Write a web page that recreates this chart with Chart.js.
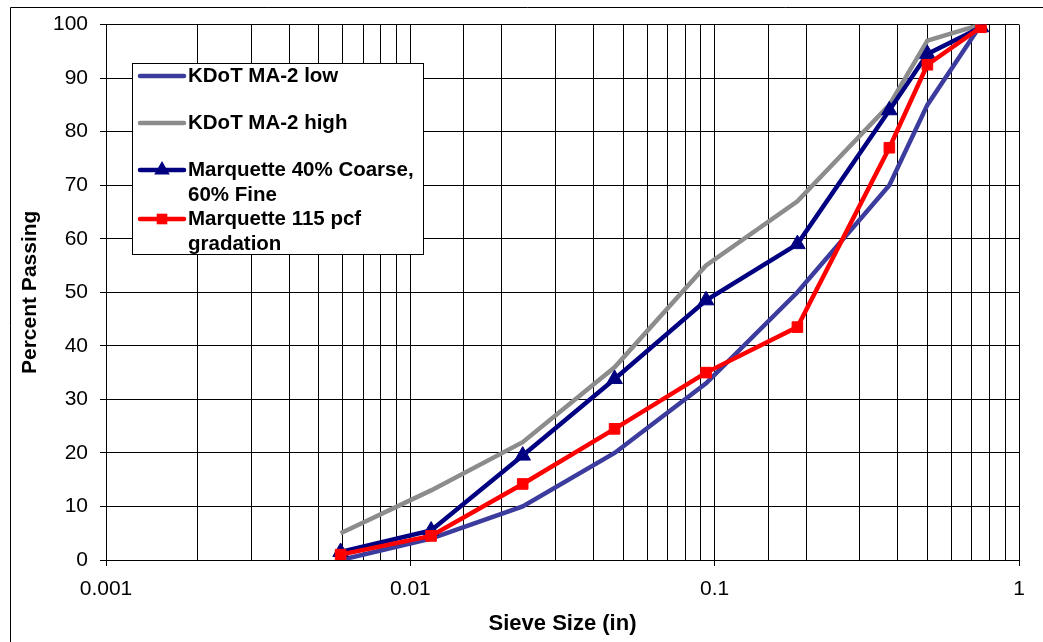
<!DOCTYPE html>
<html>
<head>
<meta charset="utf-8">
<script src="https://cdn.jsdelivr.net/npm/chart.js@4.4.1/dist/chart.umd.min.js"></script>
<style>
  html, body { margin: 0; padding: 0; background: #fff; }
  #wrap { width: 1043px; height: 642px; position: relative; }
</style>
</head>
<body>
<div id="wrap"><canvas id="sieveChart" width="1043" height="642"></canvas></div>
<script>
// sieve sizes in inches (#100 .. 3/4")
const sieveSizes = [0.0059, 0.0117, 0.0234, 0.0469, 0.0937, 0.187, 0.375, 0.5, 0.75];

const ma2Low = [0, 4, 10, 20, 33, 50, 70, 85, 100];
const ma2High = [5, 13, 22, 36, 55, 67, 85, 97, 100];
const marq4060 = [1.5, 5.5, 19.5, 33.8, 48.5, 59, 84, 94.5, 99.5];
const marq115 = [1, 4.5, 14.2, 24.5, 35, 43.5, 77, 92.5, 99.5];

const seriesNames = [
    ['KDoT MA-2 low'],
    ['KDoT MA-2 high'],
    ['Marquette 40% Coarse,', '60% Fine'],
    ['Marquette 115 pcf', 'gradation']
];

const xMin = 0.001;
const xMax = 1;
const yTicks = [0, 10, 20, 30, 40, 50, 60, 70, 80, 90, 100];

function toPoints(values) {
    return values.map((v, i) => ({ x: sieveSizes[i], y: v }));
}

// outer frame (only top and left edges are in view)
const framePlugin = {
    id: 'frame',
    beforeDraw(chart) {
        const c = chart.ctx;
        c.save();
        c.strokeStyle = '#000';
        c.lineWidth = 1;
        c.beginPath();
        c.moveTo(10.5, 660);
        c.lineTo(10.5, 7.5);
        c.lineTo(1060, 7.5);
        c.stroke();
        c.restore();
    }
};

// boxed legend inside the plot, multi-line labels
const legendBox = {
    id: 'legendBox',
    afterDatasetsDraw(chart) {
        const c = chart.ctx;
        const bx = 132.5, by = 63.5, bw = 291, bh = 191;
        c.save();
        c.fillStyle = '#fff';
        c.fillRect(bx, by, bw, bh);
        c.strokeStyle = '#000';
        c.lineWidth = 1;
        c.strokeRect(bx, by, bw, bh);

        const rows = [76, 123, 170, 219];
        c.font = 'bold 20.5px "Liberation Sans", Arial, sans-serif';
        c.textBaseline = 'middle';
        c.textAlign = 'left';
        chart.data.datasets.forEach((ds, i) => {
            const y = rows[i];
            c.strokeStyle = ds.borderColor;
            c.lineWidth = 4.5;
            c.lineCap = 'round';
            c.beginPath();
            c.moveTo(140, y);
            c.lineTo(184, y);
            c.stroke();
            if (ds.pointRadius > 0) {
                c.fillStyle = ds.pointBackgroundColor;
                c.beginPath();
                if (ds.pointStyle === 'triangle') {
                    const r = ds.pointRadius;
                    c.moveTo(162, y - r);
                    c.lineTo(162 + r * 0.866, y + r * 0.5);
                    c.lineTo(162 - r * 0.866, y + r * 0.5);
                    c.closePath();
                } else {
                    const s = ds.pointRadius * Math.SQRT1_2;
                    c.rect(162 - s, y - s, 2 * s, 2 * s);
                }
                c.fill();
            }
            c.fillStyle = '#000';
            seriesNames[i].forEach((line, k) => {
                c.fillText(line, 188, y + k * 25);
            });
        });
        c.restore();
    }
};

const ctx = document.getElementById('sieveChart').getContext('2d');

const myChart = new Chart(ctx, {
    type: 'line',
    data: {
        datasets: [
            {
                label: seriesNames[0].join(' '),
                data: toPoints(ma2Low),
                borderColor: '#3c3c9e',
                borderWidth: 4.5,
                pointRadius: 0,
                order: 4
            },
            {
                label: seriesNames[1].join(' '),
                data: toPoints(ma2High),
                borderColor: '#8c8c8c',
                borderWidth: 4.5,
                pointRadius: 0,
                order: 3
            },
            {
                label: seriesNames[2].join(' '),
                data: toPoints(marq4060),
                borderColor: '#000080',
                borderWidth: 4.5,
                pointStyle: 'triangle',
                pointRadius: 9,
                pointBackgroundColor: '#000080',
                pointBorderColor: '#000080',
                pointBorderWidth: 1,
                order: 2
            },
            {
                label: seriesNames[3].join(' '),
                data: toPoints(marq115),
                borderColor: '#ff0000',
                borderWidth: 4.5,
                pointStyle: 'rect',
                pointRadius: 7.5,
                pointBackgroundColor: '#ff0000',
                pointBorderColor: '#ff0000',
                pointBorderWidth: 1,
                order: 1
            }
        ]
    },
    options: {
        responsive: false,
        animation: false,
        events: [],
        layout: { padding: { left: 0, top: 24, right: 24, bottom: 0 } },
        plugins: {
            legend: { display: false },
            tooltip: { enabled: false }
        },
        scales: {
            x: {
                type: 'logarithmic',
                min: xMin,
                max: xMax,
                afterFit(scale) { scale.height = 82; },
                border: { color: '#000', width: 1 },
                grid: {
                    color: '#000',
                    lineWidth: 1,
                    tickLength: 6,
                    tickColor: c => isDecade(c.tick.value) ? '#000' : 'rgba(0,0,0,0)'
                },
                ticks: {
                    autoSkip: false,
                    maxRotation: 0,
                    padding: 11,
                    color: '#000',
                    font: { family: '"Liberation Sans", Arial, sans-serif', size: 21 },
                    callback: v => isDecade(v) ? String(Number(v.toPrecision(3))) : ''
                },
                title: {
                    display: true,
                    text: 'Sieve Size (in)',
                    color: '#000',
                    padding: { top: 0, bottom: 5 },
                    font: { family: '"Liberation Sans", Arial, sans-serif', size: 22, weight: 'bold' }
                }
            },
            y: {
                min: 0,
                max: 100,
                afterFit(scale) { scale.width = 106; },
                afterBuildTicks(scale) { scale.ticks = yTicks.map(v => ({ value: v })); },
                border: { color: '#000', width: 1 },
                grid: { color: '#000', lineWidth: 1, tickLength: 6 },
                ticks: {
                    padding: 12,
                    color: '#000',
                    font: { family: '"Liberation Sans", Arial, sans-serif', size: 21 }
                },
                title: {
                    display: true,
                    text: 'Percent Passing',
                    color: '#000',
                    padding: { top: 18, bottom: 0 },
                    font: { family: '"Liberation Sans", Arial, sans-serif', size: 21, weight: 'bold' }
                }
            }
        }
    },
    plugins: [framePlugin, legendBox]
});

function isDecade(v) {
    const l = Math.log10(v);
    return Math.abs(l - Math.round(l)) < 1e-6;
}
</script>
</body>
</html>
